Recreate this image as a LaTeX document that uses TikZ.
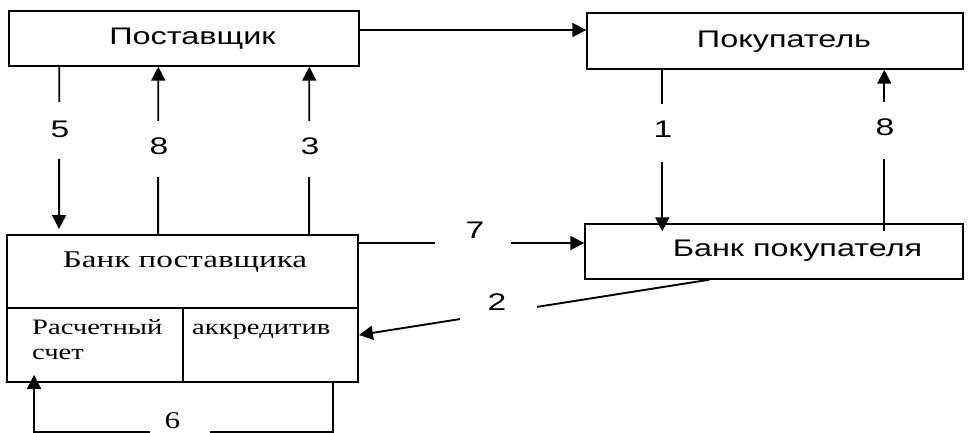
\documentclass[tikz,border=0pt]{standalone}
\usepackage{fontspec}
\setmainfont{Liberation Serif}
\newfontfamily\arialw[FakeStretch=1.35]{Liberation Sans}
\newfontfamily\numw[FakeStretch=1.4]{Liberation Sans}
\newfontfamily\serifw[FakeStretch=1.38]{Liberation Serif}
\newfontfamily\serifc[FakeStretch=1.3]{Liberation Serif}
\usetikzlibrary{arrows.meta}
\begin{document}
\begin{tikzpicture}[x=1pt,y=-1pt,
  box/.style={draw, line width=1.4pt, inner sep=0pt},
  bbox/.style={draw, line width=1.9pt, inner sep=0pt},
  sanslbl/.style={font=\arialw\fontsize{24}{28}\selectfont, inner sep=0pt},
  seriflbl/.style={font=\serifw\fontsize{24}{28}\selectfont, inner sep=0pt},
  cellt/.style={font=\serifc\fontsize{22}{26}\selectfont, inner sep=0pt, align=left},
  num/.style={font=\numw\fontsize{24}{28}\selectfont, inner sep=0pt},
  numserif/.style={font=\serifc\fontsize{24}{28}\selectfont, inner sep=0pt},
  mask/.style={fill=white, inner sep=0pt},
  arr/.style={line width=1.9pt, -{Triangle[length=14pt,width=14pt]}}
]
\useasboundingbox (0,0) rectangle (978,432);
% boxes
\node[box, minimum width=350pt, minimum height=55pt] (post) at (184,38.5) {};
\node[sanslbl, anchor=base] (postT) at (192.5,44) {Поставщик};
\node[box, minimum width=376pt, minimum height=56pt] (pok) at (775,41) {};
\node[sanslbl, anchor=base] (pokT) at (784,47) {Покупатель};
\node[box, minimum width=378pt, minimum height=55pt] (bpok) at (774,251.5) {};
\node[sanslbl, anchor=base] (bpokT) at (797.5,256) {Банк покупателя};
\node[bbox, minimum width=351pt, minimum height=73pt] (bpostTop) at (182.5,271.5) {};
\node[bbox, minimum width=176pt, minimum height=74pt] (cell1) at (95,345) {};
\node[bbox, minimum width=175pt, minimum height=74pt] (cell2) at (270.5,345) {};
\node[seriflbl, anchor=base] (bpostT) at (185,267) {Банк поставщика};
\node[cellt, anchor=base west] (c1T) at (32,334) {Расчетный};
\node[cellt, anchor=base west] (c1T2) at (32,359) {счет};
\node[cellt, anchor=base west] (c2T) at (192,334) {аккредитив};
% connectors
\draw[arr] ([yshift=8.5pt]post.east) -- ([yshift=11pt]pok.west);
\draw[arr] ([xshift=51pt]post.south west) -- ([xshift=53pt,yshift=5pt]bpostTop.north west);
\draw[arr] ([xshift=152pt]bpostTop.north west) -- ([xshift=150pt]post.south west);
\draw[arr] ([xshift=303pt]bpostTop.north west) -- ([xshift=301pt]post.south west);
\draw[arr] ([xshift=76pt]pok.south west) -- ([xshift=78pt,yshift=-8pt]bpok.north west);
\draw[arr] ([xshift=300pt,yshift=-8pt]bpok.north west) -- ([xshift=298pt]pok.south west);
\draw[arr] ([yshift=28.5pt]bpostTop.east) -- ([yshift=8.5pt]bpok.west);
\draw[arr] ([xshift=125pt]bpok.south west) -- ([yshift=10pt]cell2.east);
\draw[arr] ([xshift=-26pt]cell2.south east) -- ++(0,49) -| ([xshift=28pt,yshift=8pt]cell1.south west);
% label gaps and numbers
\node[mask, minimum width=24pt, minimum height=57pt] (g5) at (60,130.5) {};
\node[num] (t5) at (60,129) {5};
\node[mask, minimum width=24pt, minimum height=56pt] (g8a) at (159,149) {};
\node[num] (t8a) at (159,146) {8};
\node[mask, minimum width=24pt, minimum height=56pt] (g3) at (310,149) {};
\node[num] (t3) at (310,146) {3};
\node[mask, minimum width=24pt, minimum height=58pt] (g1) at (663,133) {};
\node[num] (t1) at (663,129.5) {1};
\node[mask, minimum width=24pt, minimum height=57pt] (g8b) at (885,130.5) {};
\node[num] (t8b) at (885,127.5) {8};
\node[mask, minimum width=76pt, minimum height=10pt] (g7) at (473,243) {};
\node[num] (t7) at (475,230) {7};
\node[mask, minimum width=77pt, minimum height=30pt] (g2) at (498.5,307) {};
\node[num] (t2) at (497,302.5) {2};
\node[mask, minimum width=60pt, minimum height=8pt] (g6) at (180,431) {};
\node[numserif] (t6) at (172.5,420.5) {6};
\end{tikzpicture}
\end{document}
